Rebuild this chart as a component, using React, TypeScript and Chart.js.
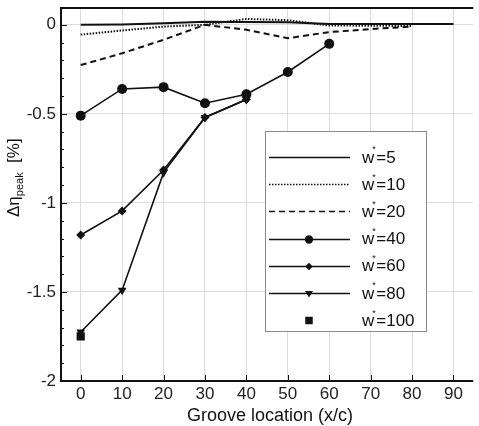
import React, { useEffect, useRef } from "react";
import { Chart, registerables } from "chart.js";

Chart.register(...registerables);

const xLocations = [0, 10, 20, 30, 40, 50, 60, 70, 80, 90];
const w5 = [0.0, 0.002, 0.009, 0.017, 0.016, 0.015, 0.004, 0.004, 0.004, 0.004];
const w10 = [-0.055, -0.032, -0.01, 0.0, 0.033, 0.026, -0.004, -0.005, -0.007];
const w20 = [-0.226, -0.16, -0.084, 0.0, -0.028, -0.075, -0.041, -0.024, -0.01];
const w40 = [-0.51, -0.36, -0.35, -0.44, -0.39, -0.265, -0.107];
const w60 = [-1.18, -1.045, -0.815, -0.52, -0.42];
const w80 = [-1.725, -1.49, -0.83, -0.52, -0.42];
const w100 = [-1.75];

const seriesNames = ["5", "10", "20", "40", "60", "80", "100"];
const xTickValues = [0, 10, 20, 30, 40, 50, 60, 70, 80, 90];
const yTickValues = [-2, -1.5, -1, -0.5, 0];
const yMinorTickValues = [
  -1.9, -1.8, -1.7, -1.6, -1.4, -1.3, -1.2, -1.1, -0.9, -0.8, -0.7, -0.6, -0.4, -0.3, -0.2, -0.1,
];
const xTitle = "Groove location (x/c)";

const FONT = "'Liberation Sans', Arial, Helvetica, sans-serif";
const INK = "#111";

const toPoints = (vals: number[]) => vals.map((v, i) => ({ x: xLocations[i], y: v }));

type Style = {
  dash: number[];
  point: string | false;
  radius: number;
  rotation: number;
  showLine: boolean;
  lw: number;
};

const styles: Style[] = [
  { dash: [], point: false, radius: 0, rotation: 0, showLine: true, lw: 2 },
  { dash: [1.5, 1.5], point: false, radius: 0, rotation: 0, showLine: true, lw: 2 },
  { dash: [6, 4], point: false, radius: 0, rotation: 0, showLine: true, lw: 2 },
  { dash: [], point: "circle", radius: 5, rotation: 0, showLine: true, lw: 1.6 },
  { dash: [], point: "rectRot", radius: 4.5, rotation: 0, showLine: true, lw: 1.6 },
  { dash: [], point: "triangle", radius: 5, rotation: 180, showLine: true, lw: 1.6 },
  { dash: [], point: "rect", radius: 5.8, rotation: 0, showLine: false, lw: 1.6 },
];

const seriesValues = [w5, w10, w20, w40, w60, w80, w100];

function drawMarker(ctx: CanvasRenderingContext2D, style: string, x: number, y: number, r: number, rotation: number) {
  ctx.save();
  ctx.translate(x, y);
  ctx.rotate((rotation * Math.PI) / 180);
  ctx.beginPath();
  if (style === "circle") {
    ctx.arc(0, 0, r, 0, Math.PI * 2);
  } else if (style === "rectRot") {
    ctx.moveTo(0, -r);
    ctx.lineTo(r, 0);
    ctx.lineTo(0, r);
    ctx.lineTo(-r, 0);
    ctx.closePath();
  } else if (style === "triangle") {
    ctx.moveTo(0, -r);
    ctx.lineTo(r, r * 0.6);
    ctx.lineTo(-r, r * 0.6);
    ctx.closePath();
  } else {
    ctx.rect(-r * 0.75, -r * 0.75, r * 1.5, r * 1.5);
  }
  ctx.fill();
  ctx.restore();
}

const decorPlugin = {
  id: "decor",
  afterDraw(chart: any) {
    const { ctx, chartArea: a, scales } = chart;
    const x = scales.x;
    const y = scales.y;
    ctx.save();
    ctx.strokeStyle = INK;
    ctx.lineWidth = 1;
    for (const v of yMinorTickValues) {
      const py = Math.round(y.getPixelForValue(v)) + 0.5;
      ctx.beginPath();
      ctx.moveTo(a.left, py);
      ctx.lineTo(a.left + 4, py);
      ctx.stroke();
    }
    for (const v of yTickValues) {
      const py = Math.round(y.getPixelForValue(v)) + 0.5;
      ctx.beginPath();
      ctx.moveTo(a.left, py);
      ctx.lineTo(a.left + 7, py);
      ctx.stroke();
    }
    for (const v of xTickValues) {
      const px = Math.round(x.getPixelForValue(v)) + 0.5;
      ctx.beginPath();
      ctx.moveTo(px, a.bottom);
      ctx.lineTo(px, a.bottom - 6);
      ctx.stroke();
    }
    // axes frame
    ctx.lineWidth = 2;
    ctx.beginPath();
    ctx.moveTo(a.left + 1, a.top + 1);
    ctx.lineTo(a.left + 1, a.bottom);
    ctx.lineTo(a.right, a.bottom);
    ctx.moveTo(a.left, a.top + 1);
    ctx.lineTo(a.right, a.top + 1);
    ctx.stroke();

    // legend
    const lx = 265, ly = 131, lw = 161, lh = 200;
    ctx.fillStyle = "#fff";
    ctx.fillRect(lx, ly, lw, lh);
    ctx.strokeStyle = "#8a8a8a";
    ctx.lineWidth = 1;
    ctx.strokeRect(lx + 0.5, ly + 0.5, lw, lh);
    const rowY0 = 157;
    const rowStep = 27.2;
    seriesNames.forEach((name, i) => {
      const st = styles[i];
      const cy = rowY0 + i * rowStep;
      ctx.strokeStyle = INK;
      ctx.fillStyle = INK;
      if (st.showLine) {
        ctx.lineWidth = 1.6;
        ctx.setLineDash(st.dash.length ? st.dash : []);
        ctx.beginPath();
        ctx.moveTo(269, Math.round(cy) + 0.5);
        ctx.lineTo(350, Math.round(cy) + 0.5);
        ctx.stroke();
        ctx.setLineDash([]);
      }
      if (st.point) {
        const r = st.point === "circle" ? 4.2 : st.point === "rectRot" ? 3.8 : st.point === "triangle" ? 4 : 5;
        drawMarker(ctx, st.point, 309, Math.round(cy) + 0.5, r, st.rotation);
      }
      ctx.textBaseline = "middle";
      ctx.textAlign = "left";
      ctx.font = `17px ${FONT}`;
      ctx.fillText("w", 362, cy + 1);
      const ww = ctx.measureText("w").width;
      ctx.font = `9px ${FONT}`;
      ctx.fillText("*", 362 + ww - 2, cy - 7);
      ctx.font = `17px ${FONT}`;
      ctx.fillText("=" + name, 362 + ww + 2, cy + 1);
    });

    // axis titles
    ctx.fillStyle = INK;
    ctx.font = `18px ${FONT}`;
    ctx.textAlign = "center";
    ctx.textBaseline = "alphabetic";
    ctx.fillText(xTitle, 270, 421);

    ctx.save();
    ctx.translate(19, 217);
    ctx.rotate(-Math.PI / 2);
    ctx.textAlign = "left";
    ctx.font = `17px ${FONT}`;
    let cx = 0;
    ctx.fillText("Δη", cx, 0);
    cx += ctx.measureText("Δη").width;
    ctx.font = `11px ${FONT}`;
    ctx.fillText("peak", cx, 4);
    cx += ctx.measureText("peak").width;
    ctx.font = `17px ${FONT}`;
    ctx.fillText("  [%]", cx, 0);
    ctx.restore();

    ctx.restore();
  },
};

export default function App() {
  const canvasRef = useRef<HTMLCanvasElement | null>(null);

  useEffect(() => {
    document.body.style.margin = "0";
    const canvas = canvasRef.current;
    if (!canvas) return;
    const datasets = seriesValues.map((vals, i) => {
      const st = styles[i];
      return {
        label: "w*=" + seriesNames[i],
        data: toPoints(vals),
        borderColor: INK,
        backgroundColor: INK,
        borderWidth: st.lw,
        borderDash: st.dash,
        showLine: st.showLine,
        pointStyle: st.point || "circle",
        pointRadius: st.point ? st.radius : 0,
        pointRotation: st.rotation,
        pointBorderWidth: 0,
        pointBackgroundColor: INK,
        tension: 0,
        fill: false,
      };
    });
    const chart = new Chart(canvas, {
      type: "scatter",
      data: { datasets: datasets as any },
      options: {
        animation: false,
        responsive: false,
        maintainAspectRatio: false,
        layout: { padding: { top: 7, right: 0, left: 0, bottom: 0 } },
        plugins: { legend: { display: false }, tooltip: { enabled: false } },
        scales: {
          x: {
            type: "linear",
            min: -5,
            max: 94.76,
            afterBuildTicks: (s: any) => {
              s.ticks = xTickValues.map((v) => ({ value: v }));
            },
            afterFit: (s: any) => {
              s.height = 45;
              s.paddingLeft = 0;
              s.paddingRight = 0;
            },
            grid: { color: "#dcdcdc", lineWidth: 1, drawTicks: false },
            border: { display: false },
            ticks: {
              color: "#222",
              font: { family: FONT, size: 17 },
              padding: 3,
              maxRotation: 0,
              autoSkip: false,
              callback: (v: any) => String(v),
            },
          },
          y: {
            type: "linear",
            min: -2,
            max: 0.1,
            afterBuildTicks: (s: any) => {
              s.ticks = yTickValues.map((v) => ({ value: v }));
            },
            afterFit: (s: any) => {
              s.width = 60;
              s.paddingTop = 0;
              s.paddingBottom = 0;
            },
            grid: { color: "#dcdcdc", lineWidth: 1, drawTicks: false },
            border: { display: false },
            ticks: {
              color: "#222",
              font: { family: FONT, size: 17 },
              padding: 4,
              autoSkip: false,
              callback: (v: any) => String(v),
            },
          },
        },
      },
      plugins: [decorPlugin],
    });
    return () => chart.destroy();
  }, []);

  return (
    <div style={{ width: 479, height: 426 }}>
      <canvas ref={canvasRef} width={479} height={426} style={{ display: "block" }} />
    </div>
  );
}
